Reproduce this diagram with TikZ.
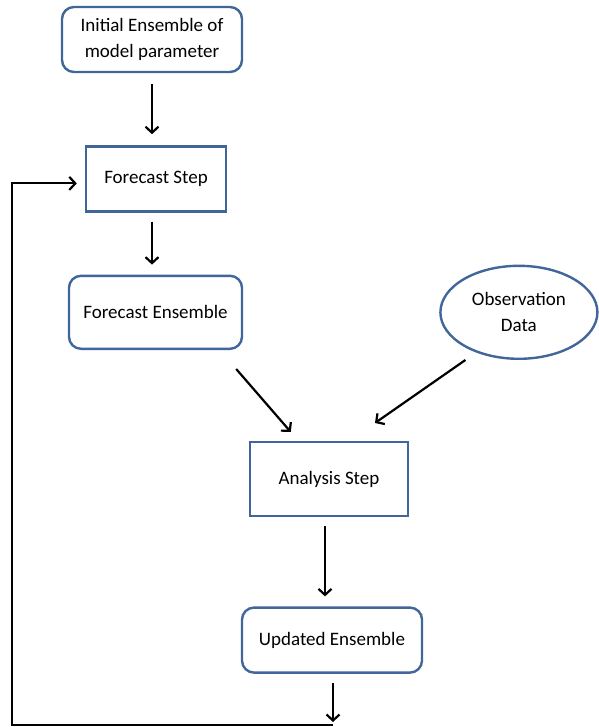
\documentclass[tikz,border=0pt]{standalone}
\usepackage{fontspec}
\setmainfont{Carlito}
\usepackage{tikz}
\usetikzlibrary{arrows.meta,positioning,shapes.geometric}
\definecolor{boxblue}{HTML}{41669A}

\begin{document}
\begin{tikzpicture}[
  x=1pt, y=-1pt,
  font=\fontsize{19}{26}\selectfont,
  box/.style={draw=boxblue, line width=2.4pt, rounded corners=12pt, align=center, inner sep=4pt},
  stepbox/.style={draw=boxblue, line width=2.4pt, align=center, inner sep=4pt},
  obs/.style={draw=boxblue, line width=2.4pt, ellipse, align=center, minimum width=157pt, minimum height=93pt, inner sep=1pt},
  arr/.style={-{Straight Barb[length=6pt,width=13pt]}, line width=2.2pt}
]
\useasboundingbox (0,0) rectangle (598,727);
\node[box, minimum width=180pt, minimum height=65pt] (init) at (152,39.5) {Initial Ensemble of\\model parameter};
\node[stepbox, minimum width=140pt, minimum height=65pt, below=72pt of init, xshift=4pt] (fc) {Forecast Step};
\node[box, minimum width=173pt, minimum height=73pt, below=62pt of fc, xshift=-0.5pt] (fens) {Forecast Ensemble};
\node[obs, right=196pt of fens] (obsdata) {Observation\\Data};
\node[stepbox, minimum width=158pt, minimum height=74pt, below=91pt of fens, xshift=173.5pt] (ana) {Analysis Step};
\node[box, minimum width=180pt, minimum height=65pt, below=89pt of ana, xshift=3pt] (upd) {Updated Ensemble};
\coordinate (loop) at (333,725);
\coordinate (side) at (12,725);
\draw[arr, shorten <=11pt, shorten >=11pt] (init.south) -- (init.south |- fc.north);
\draw[arr, shorten <=9pt, shorten >=10pt] (fc.south -| init) -- (fens.north -| init);
\draw[arr] ([xshift=-7pt,yshift=-19pt]fens.south east) -- ([xshift=42pt,yshift=9pt]ana.north west);
\draw[arr] ([xshift=-53.5pt]obsdata.south) -- ([xshift=46pt,yshift=18pt]ana.north);
\draw[arr, shorten <=9pt, shorten >=10pt] ([xshift=-4pt]ana.south) -- ([xshift=-7pt]upd.north);
\draw[arr, shorten <=9pt, shorten >=3pt] (upd.south -| loop) -- (loop);
\draw[arr, shorten >=8pt] (loop) -- (side) |- ([yshift=-4.5pt]fc.west);
\end{tikzpicture}
\end{document}
